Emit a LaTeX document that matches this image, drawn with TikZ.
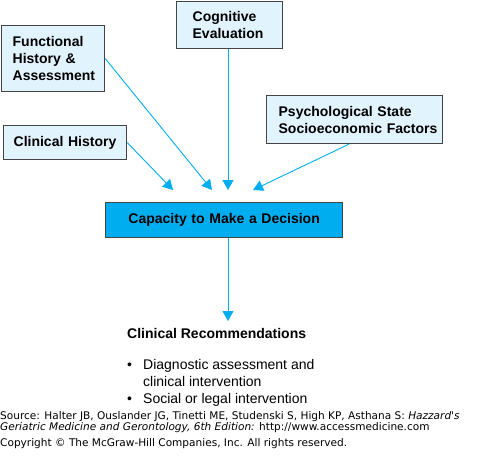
\documentclass[tikz,border=0pt]{standalone}
\usepackage{fontspec}
\setmainfont{Liberation Sans}
\newfontfamily\srcfont{DejaVu Sans}
\usetikzlibrary{arrows.meta}
\hyphenpenalty=10000
\exhyphenpenalty=10000
\definecolor{boxfill}{HTML}{E1F3FD}
\definecolor{boxline}{HTML}{444444}
\definecolor{cyanA}{HTML}{00AEEF}
\tikzset{
  inbox/.style={draw=boxline, fill=boxfill, line width=1.3pt,
    font=\fontsize{14}{17}\selectfont\bfseries,
    align=left, inner xsep=10pt, inner ysep=0pt, anchor=north west},
  conn/.style={draw=cyanA, line width=0.9pt, -{Triangle[length=10pt,width=11pt]}, color=cyanA},
  txt/.style={anchor=base west, inner sep=0pt, font=\fontsize{14}{17}\selectfont},
  src/.style={anchor=base west, inner sep=0pt, font=\srcfont\fontsize{10.55}{12}\selectfont},
}
\begin{document}
\begin{tikzpicture}[x=1pt,y=-1pt]
\useasboundingbox (0,0) rectangle (489,463);
% boxes
\node[inbox, inner xsep=11pt, minimum width=103pt, minimum height=66pt, text width=81pt] (fh) at (1,25) {\mbox{Functional}\\\mbox{History \&}\\\mbox{Assessment}};
\node[inbox, inner xsep=16pt, minimum width=106pt, minimum height=47pt, text width=74pt] (ce) at (176,1) {\mbox{Cognitive}\\\mbox{Evaluation}};
\node[inbox, inner xsep=10pt, minimum width=123pt, minimum height=34pt, text width=103pt] (ch) at (3,125) {\mbox{Clinical History}};
\node[inbox, inner xsep=12pt, minimum width=176pt, minimum height=48pt, text width=152pt] (ps) at (266,95) {\mbox{Psychological State}\\\mbox{Socioeconomic Factors}};
\node[inbox, fill=cyanA, minimum width=237pt, minimum height=35pt, text width=217pt, align=center] (cap) at (105,202) {Capacity to Make a Decision};
% arrow tips
\coordinate (t1) at (173,190);
\coordinate (t2) at (212,190);
\coordinate (t3) at (228,190);
\coordinate (t4) at (253,190);
\coordinate (t5) at (228,321);
\draw[conn] (ch.east) -- (t1);
\draw[conn] (fh.east) -- (t2);
\draw[conn] (ce.south -| t3) -- (t3);
\draw[conn] ([xshift=-6pt]ps.south) -- (t4);
\draw[conn] (cap.south -| t5) -- (t5);
% recommendations
\node[txt, font=\fontsize{14}{17}\selectfont\bfseries] (rec) at (127,338) {Clinical Recommendations};
\node[txt] (b1) at (127,369) {•};
\node[txt] (r1) at (143,369) {Diagnostic assessment and};
\node[txt] (r1b) at (143,386) {clinical intervention};
\node[txt] (b2) at (127,403) {•};
\node[txt] (r2) at (143,403) {Social or legal intervention};
% source
\node[src] (s1) at (0,419) {Source: Halter JB, Ouslander JG, Tinetti ME, Studenski S, High KP, Asthana S: \textit{Hazzard's}};
\node[src] (s2) at (0,430) {\textit{Geriatric Medicine and Gerontology, 6th Edition:} http://www.accessmedicine.com};
\node[src] (s3) at (0,446) {Copyright © The McGraw-Hill Companies, Inc. All rights reserved.};
\end{tikzpicture}
\end{document}
